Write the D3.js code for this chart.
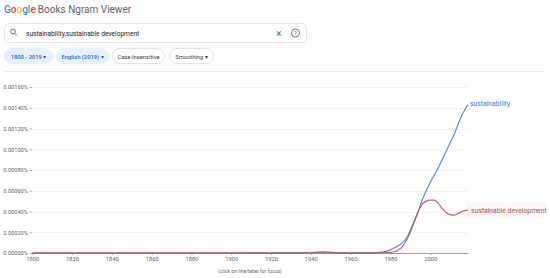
<!DOCTYPE html>
<html><head><meta charset="utf-8">
<script src="https://cdn.jsdelivr.net/npm/d3@7"></script>
<style>
body{margin:0;background:#fff;font-family:Roboto,"Noto Sans",Arial,sans-serif;}
svg{display:block}
</style></head>
<body>
<svg id="c" width="550" height="278"></svg>
<script>
const yTicks = [0,0.0002,0.0004,0.0006,0.0008,0.001,0.0012,0.0014,0.0016];
const xTicks = [1800,1820,1840,1860,1880,1900,1920,1940,1960,1980,2000];
const seriesNames = ["sustainability","sustainable development"];
const years = [1800,1900,1938,1943,1946,1949,1952,1960,1970,1972,1975,1978,1980,1982,1984,1986,1988,1990,1992,1994,1996,1998,2000,2002,2004,2006,2008,2010,2012,2014,2016,2018,2019];
const sustainability = [0,0,0.000001,0.000008,0.000011,0.000009,0.000002,0.000001,0.000002,0.000003,0.000006,0.000016,0.00003,0.00005,0.00007,0.0001,0.00014,0.00022,0.00031,0.0004,0.00051,0.0006,0.00068,0.00075,0.00082,0.0009,0.00098,0.00106,0.00114,0.00124,0.00133,0.0014,0.00143];
const sustainableDev = [0.000001,0.000001,0.000001,0.000002,0.000003,0.000002,0.000001,0.000001,0.000001,0.000001,0.000002,0.000003,0.000006,0.000012,0.00003,0.00006,0.00012,0.0002,0.0003,0.0004,0.00047,0.0005,0.00051,0.00051,0.00048,0.00043,0.00039,0.00037,0.000365,0.00038,0.0004,0.00041,0.000412];

const svg = d3.select("#c");

const logo = svg.append("text").attr("x",4).attr("y",13).attr("font-size",10).attr("font-family","Roboto,sans-serif");
[["G","#4285f4"],["o","#ea4335"],["o","#fbbc05"],["g","#4285f4"],["l","#34a853"],["e","#ea4335"]].forEach(([c,col])=>logo.append("tspan").attr("fill",col).attr("font-weight",500).text(c));
logo.append("tspan").attr("fill","#5f6368").attr("dx",2).text("Books Ngram Viewer");

svg.append("rect").attr("x",4.5).attr("y",23.5).attr("width",302).attr("height",19).attr("rx",4)
  .attr("fill","#fff").attr("stroke","#e6e6e6");
svg.append("circle").attr("cx",13).attr("cy",31.5).attr("r",2.4).attr("fill","none").attr("stroke","#5f6368").attr("stroke-width",0.9);
svg.append("line").attr("x1",14.8).attr("y1",33.3).attr("x2",16.8).attr("y2",35.3).attr("stroke","#5f6368").attr("stroke-width",1);
svg.append("text").attr("x",26).attr("y",35.5).attr("font-size",6.6).attr("fill","#202124").text("sustainability,sustainable development");
svg.append("text").attr("x",279).attr("y",36.5).attr("font-size",10).attr("fill","#5f6368").attr("text-anchor","middle").text("×");
svg.append("circle").attr("cx",295.5).attr("cy",33).attr("r",4).attr("fill","none").attr("stroke","#5f6368").attr("stroke-width",0.9);
svg.append("text").attr("x",295.5).attr("y",35.3).attr("font-size",6).attr("fill","#5f6368").attr("text-anchor","middle").text("?");

const chips = [
  {t:"1800 - 2019 ▾",x:4,w:48,fill:"#e8f0fe",stroke:"#e8f0fe",col:"#1967d2"},
  {t:"English (2019) ▾",x:56,w:52,fill:"#e8f0fe",stroke:"#e8f0fe",col:"#1967d2"},
  {t:"Case-Insensitive",x:112,w:52,fill:"#fff",stroke:"#e2e3e5",col:"#3c4043"},
  {t:"Smoothing ▾",x:169,w:44,fill:"#fff",stroke:"#e2e3e5",col:"#3c4043"}
];
chips.forEach(c=>{
  svg.append("rect").attr("x",c.x+0.5).attr("y",48.5).attr("width",c.w).attr("height",15).attr("rx",7.5)
    .attr("fill",c.fill).attr("stroke",c.stroke);
  svg.append("text").attr("x",c.x+0.5+c.w/2).attr("y",58.5).attr("text-anchor","middle")
    .attr("font-size",5.8).attr("font-weight",c.fill==="#fff"?400:500).attr("fill",c.col).text(c.t);
});
svg.append("line").attr("x1",4).attr("x2",545).attr("y1",71.5).attr("y2",71.5).attr("stroke","#ececec");

const x = d3.scaleLinear().domain([1800,2019]).range([32.3,468]);
const y = d3.scaleLinear().domain([0,0.0016]).range([253,87]);

const g = svg.append("g");
g.selectAll(".grid").data(yTicks.slice(1)).join("line")
  .attr("x1",x(1800)).attr("x2",x(2019)).attr("y1",d=>Math.round(y(d))+0.5).attr("y2",d=>Math.round(y(d))+0.5)
  .attr("stroke","#f4f4f4");
g.append("rect").attr("x",x(1800)).attr("y",y(0)-5).attr("width",x(2019)-x(1800)).attr("height",5)
  .attr("fill","#fef5f6");
g.append("rect").attr("x",466).attr("y",203).attr("width",80).attr("height",15).attr("fill","#fef5f6");

const yAxis = d3.axisLeft(y).tickValues(yTicks).tickFormat(d=>d.toFixed(5)+"%").tickSize(2).tickPadding(2);
const ya = g.append("g").attr("transform",`translate(${x(1800)-0.5},0)`).call(yAxis);
ya.select(".domain").remove();
ya.selectAll("text").attr("font-size",5.6).attr("fill","#5f6368").attr("font-family","Roboto,sans-serif");
ya.selectAll("line").attr("stroke","#9aa0a6");

const xAxis = d3.axisBottom(x).tickValues(xTicks).tickFormat(d3.format("d")).tickSize(2).tickPadding(1.5).tickSizeOuter(0);
const xa = g.append("g").attr("transform",`translate(0,${y(0)})`).call(xAxis);
xa.select(".domain").attr("stroke","#9aa0a6");
xa.selectAll("text").attr("font-size",5.8).attr("fill","#5f6368").attr("font-family","Roboto,sans-serif");
xa.selectAll(".tick line").attr("stroke","#9aa0a6");

const line = d3.line().x(d=>x(d[0])).y(d=>y(d[1])).curve(d3.curveMonotoneX);
const colors = ["#4a7ee0","#a8574d"];
const data = [sustainability, sustainableDev];
g.append("path").datum(years.map((yr,i)=>[yr,data[0][i]])).attr("d",line)
  .attr("fill","none").attr("stroke",colors[0]).attr("stroke-width",1.2).attr("opacity",0.9);
g.append("path").datum(years.map((yr,i)=>[yr,data[1][i]])).attr("d",line)
  .attr("fill","none").attr("stroke",colors[1]).attr("stroke-width",1.2).attr("opacity",0.85);

g.append("text").attr("x",x(2019)+2).attr("y",y(sustainability[sustainability.length-1])+1)
  .attr("font-size",6.8).attr("fill","#3b78e7").text(seriesNames[0]);
g.append("text").attr("x",x(2019)+3).attr("y",y(sustainableDev[sustainableDev.length-1])+3)
  .attr("font-size",6.8).attr("fill","#a0584f").text(seriesNames[1]);

svg.append("text").attr("x",250).attr("y",273).attr("text-anchor","middle").attr("font-size",5).attr("fill","#5f6368")
  .text("(click on line/label for focus)");
</script>
</body></html>
